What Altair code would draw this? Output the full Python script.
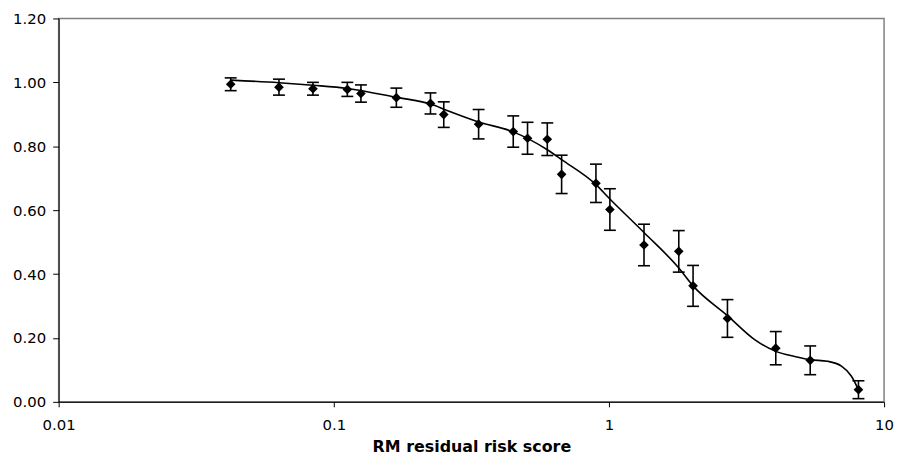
import altair as alt
import pandas as pd

# Observed points (x on log scale), values and half-width of error bars
x_vals = [0.0422, 0.0632, 0.084, 0.112, 0.1255, 0.1688, 0.2246, 0.251, 0.336, 0.449, 0.506,
          0.597, 0.673, 0.897, 1.008, 1.341, 1.794, 2.022, 2.696, 4.04, 5.39, 8.07]
y_vals = [0.994, 0.985, 0.980, 0.978, 0.965, 0.952, 0.934, 0.899, 0.869, 0.846, 0.825,
          0.822, 0.712, 0.684, 0.602, 0.491, 0.471, 0.363, 0.261, 0.168, 0.130, 0.038]
err_vals = [0.020, 0.025, 0.020, 0.022, 0.027, 0.030, 0.033, 0.040, 0.046, 0.049, 0.050,
            0.051, 0.060, 0.060, 0.065, 0.065, 0.065, 0.064, 0.059, 0.052, 0.045, 0.028]

# Smooth fitted curve
curve_x = [0.0422, 0.0632, 0.084, 0.112, 0.169, 0.225, 0.258, 0.336, 0.449, 0.597, 0.673,
           0.897, 1.008, 1.341, 1.794, 2.022, 2.696, 3.395, 4.04, 4.73, 5.39, 6.23, 7.0, 7.6, 8.07]
curve_y = [1.007, 0.999, 0.991, 0.981, 0.953, 0.932, 0.912, 0.876, 0.845, 0.789, 0.758,
           0.680, 0.635, 0.530, 0.419, 0.363, 0.270, 0.194, 0.158, 0.142, 0.132, 0.127, 0.112, 0.081, 0.038]

x_ticks = [0.01, 0.1, 1, 10]
y_ticks = [0.0, 0.2, 0.4, 0.6, 0.8, 1.0, 1.2]
x_title = "RM residual risk score"

pts = pd.DataFrame({
    "x": x_vals,
    "y": y_vals,
    "lo": [y - e for y, e in zip(y_vals, err_vals)],
    "hi": [y + e for y, e in zip(y_vals, err_vals)],
})
curve = pd.DataFrame({"x": curve_x, "y": curve_y})

xscale = alt.Scale(type="log", domain=[0.01, 10], nice=False)
yscale = alt.Scale(domain=[0, 1.2], nice=False)

xaxis = alt.Axis(values=x_ticks, format="~g", title=x_title, tickSize=5,
                 labelPadding=11, titlePadding=6, labelFlush=False)
yaxis = alt.Axis(values=y_ticks, format=".2f", title=None, tickSize=6, labelPadding=7)

line = alt.Chart(curve).mark_line(color="black", strokeWidth=1.6, interpolate="monotone").encode(
    x=alt.X("x:Q", scale=xscale, axis=xaxis),
    y=alt.Y("y:Q", scale=yscale, axis=yaxis),
)

bars = alt.Chart(pts).mark_rule(color="black", strokeWidth=1.6).encode(
    x=alt.X("x:Q", scale=xscale),
    y=alt.Y("lo:Q", scale=yscale),
    y2="hi:Q",
)

cap_lo = alt.Chart(pts).mark_rule(color="black", strokeWidth=1.6, xOffset=-6, x2Offset=6).encode(
    x=alt.X("x:Q", scale=xscale),
    x2="x:Q",
    y=alt.Y("lo:Q", scale=yscale),
)

cap_hi = alt.Chart(pts).mark_rule(color="black", strokeWidth=1.6, xOffset=-6, x2Offset=6).encode(
    x=alt.X("x:Q", scale=xscale),
    x2="x:Q",
    y=alt.Y("hi:Q", scale=yscale),
)

markers = alt.Chart(pts).mark_point(shape="diamond", filled=True, size=95, color="black", opacity=1).encode(
    x=alt.X("x:Q", scale=xscale),
    y=alt.Y("y:Q", scale=yscale),
)

chart = alt.layer(line, bars, cap_lo, cap_hi, markers).properties(
    width=831,
    height=386,
    autosize=alt.AutoSizeParams(type="none"),
    padding={"left": 51, "top": 9, "right": 11, "bottom": 54},
).configure_view(
    stroke="#808080", strokeWidth=1.5
).configure_axis(
    grid=False,
    domainColor="black",
    tickColor="black",
    labelColor="black",
    titleColor="black",
    labelFont="DejaVu Sans",
    titleFont="DejaVu Sans",
    labelFontSize=15,
    titleFontSize=16,
    titleFontWeight="bold",
)

chart.save("out.html", embed_options={"renderer": "svg", "actions": False})
